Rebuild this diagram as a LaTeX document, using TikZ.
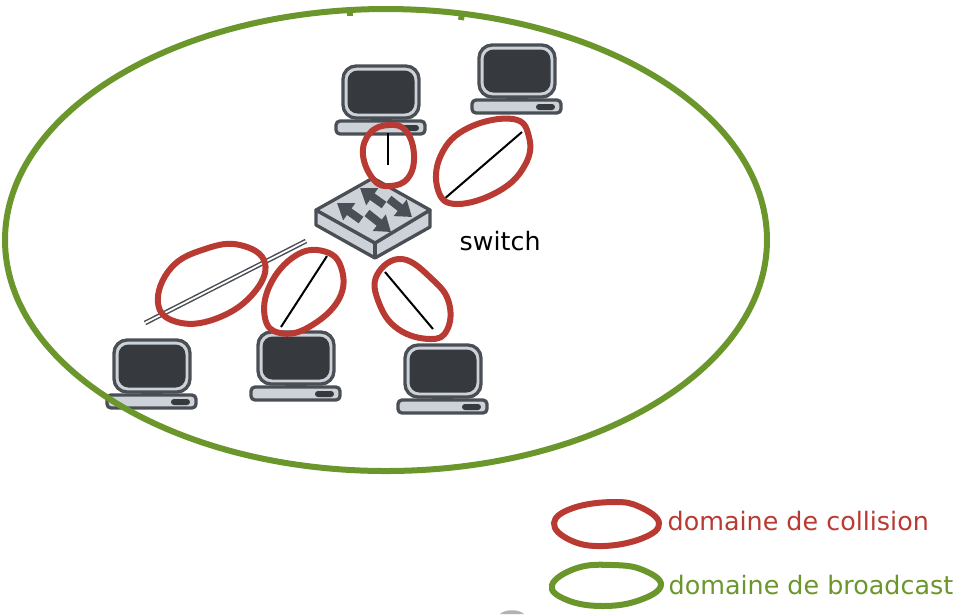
\documentclass[tikz,border=0pt]{standalone}
\usepackage{fontspec}
\setmainfont{DejaVu Sans}
\usetikzlibrary{arrows.meta}
\definecolor{pcdark}{HTML}{363A3E}
\definecolor{pcedge}{HTML}{4A4F55}
\definecolor{pclight}{HTML}{CDD2D9}
\definecolor{domred}{HTML}{B93A32}
\definecolor{domgreen}{HTML}{6A962B}
\tikzset{
  pcline/.style={draw=pcedge,line width=0.033cm,line join=round},
  link/.style={draw=black,line width=0.02cm},
  trunk/.style={draw=pcedge,line width=0.015cm,double=white,double distance=0.018cm},
  swarrow/.style={draw=pcedge,line width=0.08cm,-{Triangle[length=0.15cm,width=0.2cm]}},
  collision/.style={draw=domred,line width=0.06cm},
  broadcast/.style={draw=domgreen,line width=0.06cm},
  blob/.style={smooth cycle,tension=0.72},
  legend/.style={font=\fontsize{7.22}{9}\selectfont,anchor=west,inner sep=0pt},
  pics/computer/.style={code={
    \draw[pcline,fill=pcdark] (-9,16) rectangle (9,22);
    \draw[pcline,fill=pclight,rounded corners=0.13cm] (-38,-34) rectangle (38,18);
    \fill[pcdark,rounded corners=0.1cm] (-33.5,-29.5) rectangle (33.5,13.5);
    \draw[pcline,fill=pclight,rounded corners=0.04cm] (-45,21) rectangle (44,34);
    \fill[pcdark,rounded corners=0.03cm] (19,25) rectangle (38,31);
  }}
}
\begin{document}
\begin{tikzpicture}[x=0.01cm,y=-0.01cm]
\useasboundingbox (0,0) rectangle (954,614);
% computers
\pic (pcTop) at (381,100) {computer};
\pic (pcRight) at (517,79) {computer};
\pic (pcLeft) at (152,374) {computer};
\pic (pcMiddle) at (296,366) {computer};
\pic (pcBottom) at (443,379) {computer};
% switch
\draw[pcline,fill=pclight] (316,210) -- (316,225) -- (375,258) -- (430,227) -- (430,210) -- (375,243) -- cycle;
\draw[pcline,fill=pclight] (316,210) -- (373,178) -- (430,210) -- (375,243) -- cycle;
\draw[pcline] (375,243) -- (375,258);
\draw[swarrow] (384,205) -- (360,188);
\draw[swarrow] (361,220) -- (337,203);
\draw[swarrow] (389,199) -- (412,217);
\draw[swarrow] (367,213) -- (391,232);
\node[anchor=west,inner sep=0pt,font=\fontsize{7.2}{9}\selectfont] (switchlabel) at (459,241) {switch};
% links
\coordinate (topA) at (388,133);
\coordinate (topB) at (388,165);
\coordinate (rightA) at (443,200);
\coordinate (rightB) at (522,132);
\coordinate (leftA) at (145,323);
\coordinate (leftB) at (306,241);
\coordinate (middleA) at (281,327);
\coordinate (middleB) at (327,256);
\coordinate (bottomA) at (385,272);
\coordinate (bottomB) at (433,329);
\draw[link] (topA) -- (topB);
\draw[link] (rightA) -- (rightB);
\draw[trunk] (leftA) -- (leftB);
\draw[link] (middleA) -- (middleB);
\draw[link] (bottomA) -- (bottomB);
% collision domains
\draw[collision] plot[blob] coordinates {(389,125) (406,131) (414,155) (408,178) (390,186) (374,180) (363,155) (370,133)};
\draw[collision] plot[blob] coordinates {(513,119) (529,137) (525,165) (499,191) (457,204) (438,190) (441,155) (468,128)};
\draw[collision] plot[blob] coordinates {(240,245) (265,263) (252,295) (215,319) (177,322) (158,303) (171,268) (205,249)};
\draw[collision] plot[blob] coordinates {(323,251) (341,267) (339,299) (309,327) (280,333) (265,318) (270,285) (295,256)};
\draw[collision] plot[blob] coordinates {(402,259) (433,280) (449,303) (447,330) (430,339) (398,329) (379,303) (377,275)};
% broadcast domain
\draw[broadcast] (386,240) ellipse [x radius=381,y radius=231];
\draw[broadcast] (350,9) -- (350,16);
\draw[broadcast] (462,13) -- (461,20);
% legend
\draw[collision] plot[blob] coordinates {(613,502) (640,507) (659,523) (643,538) (603,546) (570,540) (554,523) (573,508)};
\draw[broadcast] plot[blob] coordinates {(613,565) (643,570) (661,585) (640,600) (603,606) (567,600) (552,585) (577,568)};
\node[legend,text=domred] (collisionlabel) at (667,521) {domaine de collision};
\node[legend,text=domgreen] (broadcastlabel) at (668,585) {domaine de broadcast};
\fill[gray!60] (500,614) .. controls (505,609) and (519,609) .. (524,614) -- cycle;
\end{tikzpicture}
\end{document}
